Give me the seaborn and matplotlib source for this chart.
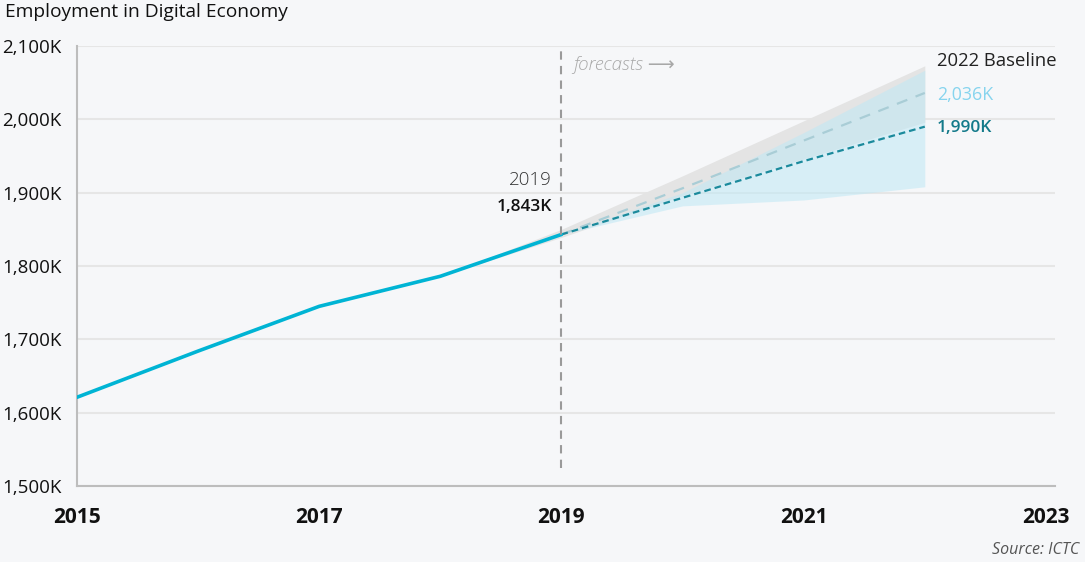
import numpy as np
import pandas as pd
import matplotlib
matplotlib.use("Agg")
import matplotlib.pyplot as plt
import seaborn as sns

# ---- data (thousands) ----
hist_years = [2015, 2016, 2017, 2018, 2019]
hist_values = [1621, 1684, 1745, 1786, 1843]

fc_years = [2019, 2020, 2021, 2022]
fc_dark = [1843, 1893, 1943, 1990]       # forecast (dark teal)
fc_light = [1843, 1906, 1971, 2036]      # 2022 baseline (light)

blue_low = [1843, 1882, 1890, 1908]
blue_high = [1843, 1900, 1982, 2067]

grey_years = [2018, 2019, 2020, 2021, 2022]
grey_low = [1786, 1839, 1896, 1946, 1996]
grey_high = [1786, 1850, 1923, 1998, 2073]

y_ticks = [1500, 1600, 1700, 1800, 1900, 2000, 2100]
y_tick_labels = ["1,500K", "1,600K", "1,700K", "1,800K", "1,900K", "2,000K", "2,100K"]
x_ticks = [2015, 2017, 2019, 2021, 2023]
x_tick_labels = ["2015", "2017", "2019", "2021", "2023"]

title = "Employment in Digital Economy"
source = "Source: ICTC"

# ---- style ----
sns.set_theme(style="white")
plt.rcParams["font.family"] = ["Open Sans", "DejaVu Sans"]
BG = "#f6f7f9"

fig = plt.figure(figsize=(10.85, 5.62), dpi=100, facecolor=BG)
ax = fig.add_axes([77 / 1085, 1 - 486 / 562, (1055 - 77) / 1085, (486 - 46) / 562])
ax.set_facecolor(BG)

hist_df = pd.DataFrame({"year": hist_years, "value": hist_values})
fc_df = pd.DataFrame({"year": fc_years, "dark": fc_dark, "light": fc_light})

# bands
ax.fill_between(grey_years, grey_low, grey_high, color="#e4e4e4", lw=0, zorder=1)
ax.fill_between(fc_years, blue_low, blue_high, color="#bfe8f5", alpha=0.55, lw=0, zorder=2)

# lines
sns.lineplot(data=hist_df, x="year", y="value", ax=ax, color="#00b4d4", lw=2.6, zorder=4)
sns.lineplot(data=fc_df, x="year", y="light", ax=ax, color="#a9cdd6", lw=1.6,
             linestyle=(0, (5, 4)), zorder=3)
sns.lineplot(data=fc_df, x="year", y="dark", ax=ax, color="#1b8a9c", lw=1.6,
             linestyle=(0, (3, 1.8)), zorder=3)

# forecast divider
ax.vlines(2019, 1525, 2100, colors="#9a9a9a", lw=1.5, linestyles=(0, (4, 3)), zorder=5)

ax.set_xlim(2015, 2023.075)
ax.set_ylim(1500, 2100)
ax.set_xticks(x_ticks)
ax.set_xticklabels(x_tick_labels, fontsize=15, fontweight="bold", color="#111111")
ax.set_yticks(y_ticks)
ax.set_yticklabels(y_tick_labels, fontsize=13.5, color="#111111", fontweight="medium")
ax.set_xlabel("")
ax.set_ylabel("")

ax.grid(axis="y", color="#e6e6e6", lw=1.5, zorder=0)
ax.grid(axis="x", visible=False)
for s in ["top", "right"]:
    ax.spines[s].set_visible(False)
for s in ["left", "bottom"]:
    ax.spines[s].set_color("#bdbdbd")
    ax.spines[s].set_linewidth(1.5)
ax.tick_params(axis="both", direction="inout", length=8, width=1.5, color="#bdbdbd")
ax.tick_params(axis="x", pad=11)
ax.tick_params(axis="y", pad=7)

# annotations
ax.text(2019.1, 2074, "forecasts \u27f6", fontsize=13.5, style="italic", color="#a8a8a8",
        fontweight="light", va="center", ha="left")
ax.text(2018.92, 1917, "2019", fontsize=13.5, color="#333333", fontweight="light",
        va="center", ha="right")
ax.text(2018.92, 1880, "1,843K", fontsize=12.5, color="#111111", fontweight="semibold",
        va="center", ha="right")
ax.text(2022.1, 2080, "2022 Baseline", fontsize=13.3, color="#222222", va="center", ha="left")
ax.text(2022.1, 2033, "2,036K", fontsize=12.8, color="#86d4ee", va="center", ha="left")
ax.text(2022.1, 1988, "1,990K", fontsize=12.5, color="#137a8a", fontweight="semibold",
        va="center", ha="left")

fig.text(5 / 1085, 1 - 12 / 562, title, fontsize=13.8, color="#111111", fontweight="medium",
         va="center", ha="left")
fig.text(1079 / 1085, 1 - 550 / 562, source, fontsize=11.5, style="italic", color="#555555",
         va="center", ha="right")

fig.savefig("out.png", dpi=100, facecolor=BG)
